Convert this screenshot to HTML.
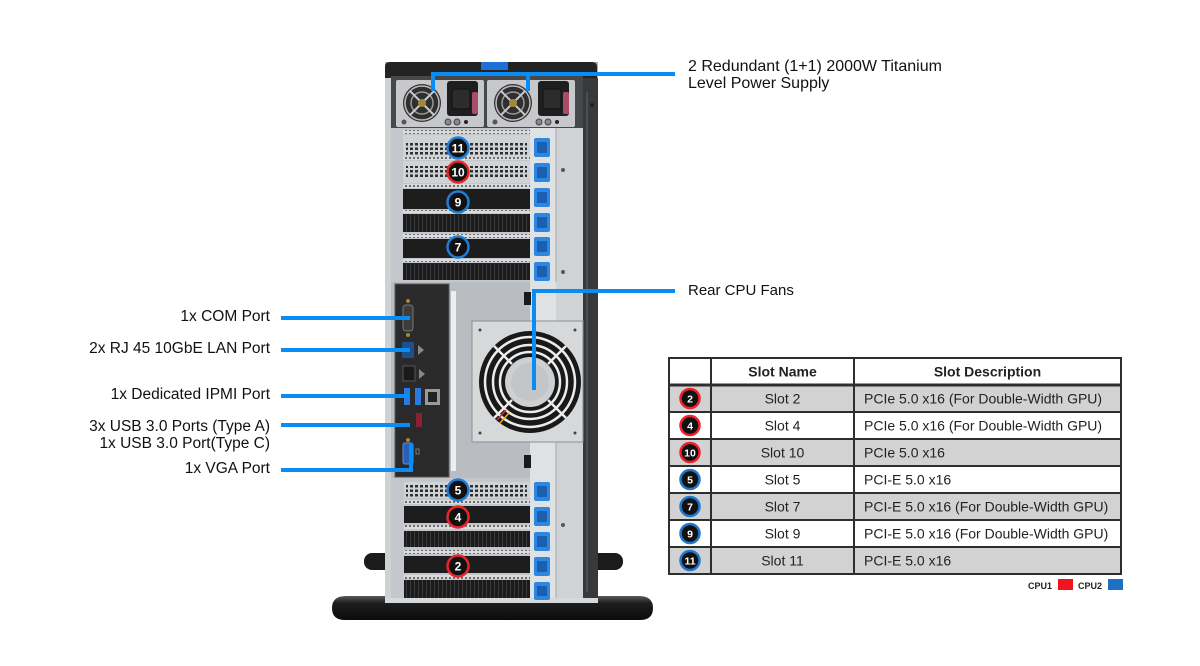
<!DOCTYPE html>
<html><head><meta charset="utf-8"><style>
html,body{margin:0;padding:0;background:#fff;}
body{width:1200px;height:666px;position:relative;overflow:hidden;font-family:"Liberation Sans",Arial,sans-serif;}
.lbl{position:absolute;font-size:16px;color:#111;white-space:nowrap;}
.r{text-align:right;right:930px;font-size:15.5px;}
svg{position:absolute;left:0;top:0;}
</style></head><body>
<svg width="1200" height="666" viewBox="0 0 1200 666" xmlns="http://www.w3.org/2000/svg" font-family="Liberation Sans, Arial, sans-serif">
<defs>
<pattern id="perf" width="5" height="4.5" patternUnits="userSpaceOnUse" x="404" y="142"><rect width="5" height="4.5" fill="#d0d3d6"/><rect x="1" y="1" width="3" height="2.5" fill="#2e2e2e"/></pattern>
<pattern id="fins" width="4" height="10" patternUnits="userSpaceOnUse"><rect width="4" height="10" fill="#1b1b1b"/><rect x="2" width="1" height="10" fill="#3a3a3a"/></pattern>
<pattern id="strip" width="4" height="4" patternUnits="userSpaceOnUse"><rect width="4" height="4" fill="#d9dbdd"/><rect x="1" y="1" width="2" height="2" fill="#6a6c6e"/></pattern>
<linearGradient id="standg" x1="0" y1="0" x2="0" y2="1"><stop offset="0" stop-color="#5a5a5a"/><stop offset="0.3" stop-color="#1d1d1d"/><stop offset="1" stop-color="#0c0c0c"/></linearGradient>
<g id="psu">
<rect x="396" y="80" width="88" height="47" rx="2" fill="#c6c8cb"/>
<circle cx="422" cy="103" r="19" fill="#2f2f2f"/>
<circle cx="422" cy="103" r="17" fill="none" stroke="#bcbcbc" stroke-width="1.5"/>
<circle cx="422" cy="103" r="11" fill="none" stroke="#9a9a9a" stroke-width="1.5"/>
<line x1="410" y1="91" x2="434" y2="115" stroke="#c8c8c8" stroke-width="2"/>
<line x1="434" y1="91" x2="410" y2="115" stroke="#c8c8c8" stroke-width="2"/>
<circle cx="422" cy="103" r="4" fill="#a08a3a"/>
<rect x="447" y="81" width="31" height="35" rx="3" fill="#1e1e1e"/>
<rect x="452" y="89" width="18" height="20" rx="3" fill="#2c2c2c" stroke="#111"/>
<rect x="472" y="92" width="6" height="22" rx="2" fill="#a84c68"/>
<circle cx="404" cy="122" r="2.5" fill="#555"/>
<circle cx="448" cy="122" r="3" fill="#8a8a8a" stroke="#444"/>
<circle cx="457" cy="122" r="3" fill="#8a8a8a" stroke="#444"/>
<circle cx="466" cy="122" r="2" fill="#222"/>
</g>
</defs>

<!-- stand -->
<rect x="364" y="553" width="42" height="17" rx="8" fill="#1b1b1b"/>
<rect x="581" y="553" width="42" height="17" rx="8" fill="#1b1b1b"/>
<path d="M346,596 L639,596 Q653,596 653,608 Q653,620 640,620 L345,620 Q332,620 332,608 Q332,596 346,596 Z" fill="url(#standg)"/>

<!-- chassis -->
<rect x="385" y="62" width="213" height="541" fill="#a9adb1"/>
<path d="M385,80 L385,67 Q385,62 390,62 L592,62 Q597,62 597,67 L597,80 Z" fill="#232323"/>
<rect x="481" y="62" width="27" height="8" fill="#1e6fd6"/>
<rect x="583" y="78" width="15" height="525" fill="#38393b"/>
<rect x="586" y="92" width="2" height="500" fill="#4d4e50"/>
<circle cx="592" cy="105" r="2" fill="#222"/>
<rect x="385" y="78" width="6" height="525" fill="#cfd2d5"/>

<!-- PSU -->
<rect x="391" y="76" width="192" height="52" fill="#47484a"/>
<use href="#psu"/>
<use href="#psu" transform="translate(91,0)"/>

<!-- upper slot area -->
<rect x="391" y="128" width="192" height="154" fill="#c3c7cb"/>
<rect x="403" y="130" width="127" height="4" fill="url(#strip)"/>
<rect x="403" y="135" width="127" height="22" fill="#d0d3d6"/>
<rect x="406" y="142" width="121" height="13" fill="url(#perf)"/>
<rect x="403" y="157" width="127" height="3" fill="url(#strip)"/>
<rect x="403" y="161" width="127" height="22" fill="#d0d3d6"/>
<rect x="406" y="166" width="121" height="13" fill="url(#perf)"/>
<rect x="403" y="184" width="127" height="4" fill="url(#strip)"/>
<rect x="403" y="189" width="127" height="20" fill="#1d1d1d"/>
<rect x="403" y="210" width="127" height="3" fill="url(#strip)"/>
<rect x="403" y="214" width="127" height="18" fill="url(#fins)"/>
<rect x="403" y="234" width="127" height="4" fill="url(#strip)"/>
<rect x="403" y="239" width="127" height="19" fill="#1d1d1d"/>
<rect x="403" y="259" width="127" height="3" fill="url(#strip)"/>
<rect x="403" y="263" width="127" height="17" fill="url(#fins)"/>
<rect x="530" y="128" width="26" height="154" fill="#dfe2e5"/>
<rect x="556" y="128" width="27" height="154" fill="#d0d3d6"/>
<line x1="556" y1="128" x2="556" y2="282" stroke="#a5a8ab"/>
<circle cx="563" cy="170" r="2" fill="#555"/>
<circle cx="563" cy="272" r="2" fill="#555"/>

<!-- middle -->
<rect x="391" y="282" width="192" height="196" fill="#b9bdc1"/>
<rect x="530" y="282" width="26" height="39" fill="#dfe2e5"/>
<rect x="556" y="282" width="27" height="39" fill="#d0d3d6"/>
<rect x="530" y="442" width="26" height="36" fill="#dfe2e5"/>
<rect x="556" y="442" width="27" height="36" fill="#d0d3d6"/>
<rect x="395" y="284" width="54" height="193" fill="#2a2a2b" stroke="#555"/>
<rect x="451" y="291" width="5" height="180" fill="#eceef0"/>
<rect x="403" y="305" width="10" height="26" rx="3" fill="#3d3d3d" stroke="#777"/>
<circle cx="408" cy="301" r="2" fill="#a08a3a"/>
<circle cx="408" cy="335" r="2" fill="#a08a3a"/>
<rect x="402" y="342" width="12" height="16" fill="#1f4f8a"/>
<path d="M418,345 L424,350 L418,355 Z" fill="#888"/>
<rect x="403" y="366" width="12" height="15" fill="#1a1a1a" stroke="#555"/>
<path d="M419,369 L425,374 L419,379 Z" fill="#888"/>
<rect x="404" y="388" width="6" height="17" fill="#2a7be0"/>
<rect x="415" y="388" width="6" height="17" fill="#2a7be0"/>
<rect x="425" y="389" width="15" height="16" fill="#9a9a9a"/>
<rect x="428" y="392" width="9" height="10" fill="#222"/>
<rect x="416" y="413" width="6" height="14" fill="#8a2236"/>
<rect x="403" y="443" width="10" height="21" rx="2" fill="#2a5fb8" stroke="#6a8ad0"/>
<circle cx="408" cy="440" r="2" fill="#a08a3a"/>
<rect x="416" y="449" width="3" height="5" fill="none" stroke="#777"/>
<rect x="524" y="292" width="7" height="13" fill="#1a1a1a"/>
<rect x="524" y="455" width="7" height="13" fill="#1a1a1a"/>
<!-- fan -->
<rect x="472" y="321" width="111" height="121" fill="#d6d8da" stroke="#8c8f92"/>
<circle cx="480" cy="330" r="1.5" fill="#444"/><circle cx="575" cy="330" r="1.5" fill="#444"/>
<circle cx="480" cy="433" r="1.5" fill="#444"/><circle cx="575" cy="433" r="1.5" fill="#444"/>
<circle cx="530" cy="382" r="51" fill="#191919"/>
<circle cx="530" cy="382" r="45" fill="none" stroke="#ececec" stroke-width="2.5"/>
<circle cx="530" cy="382" r="37" fill="none" stroke="#ececec" stroke-width="2.5"/>
<circle cx="530" cy="382" r="30" fill="none" stroke="#ececec" stroke-width="2.5"/>
<g stroke="#ececec" stroke-width="2.5">
<line x1="512" y1="364" x2="494" y2="346"/><line x1="548" y1="364" x2="566" y2="346"/>
<line x1="512" y1="400" x2="494" y2="418"/><line x1="548" y1="400" x2="566" y2="418"/>
</g>
<circle cx="530" cy="382" r="25" fill="#cdd0d2"/>
<circle cx="530" cy="382" r="19" fill="#c3c6c8"/>
<line x1="497" y1="420" x2="506" y2="410" stroke="#d24" stroke-width="1.5"/>
<line x1="500" y1="423" x2="509" y2="413" stroke="#e9b400" stroke-width="1.5"/>

<!-- lower slot area -->
<rect x="391" y="478" width="192" height="125" fill="#c3c7cb"/>
<rect x="404" y="482" width="126" height="16" fill="#d0d3d6"/>
<rect x="406" y="485" width="121" height="12" fill="url(#perf)"/>
<rect x="404" y="500" width="126" height="4" fill="url(#strip)"/>
<rect x="404" y="506" width="126" height="17" fill="#1d1d1d"/>
<rect x="404" y="525" width="126" height="4" fill="url(#strip)"/>
<rect x="404" y="531" width="126" height="16" fill="url(#fins)"/>
<rect x="404" y="550" width="126" height="4" fill="url(#strip)"/>
<rect x="404" y="556" width="126" height="17" fill="#1d1d1d"/>
<rect x="404" y="575" width="126" height="4" fill="url(#strip)"/>
<rect x="404" y="580" width="126" height="18" fill="url(#fins)"/>
<rect x="530" y="478" width="26" height="125" fill="#dfe2e5"/>
<rect x="556" y="478" width="27" height="125" fill="#d0d3d6"/>
<line x1="556" y1="442" x2="556" y2="603" stroke="#a5a8ab"/>
<circle cx="563" cy="525" r="2" fill="#555"/>
<rect x="385" y="598" width="213" height="5" fill="#d6d9dc"/>

<!-- latches -->
<g fill="#2d86e0">
<rect x="534" y="138" width="16" height="19" rx="2"/><rect x="534" y="163" width="16" height="19" rx="2"/>
<rect x="534" y="188" width="16" height="19" rx="2"/><rect x="534" y="213" width="16" height="19" rx="2"/>
<rect x="534" y="237" width="16" height="19" rx="2"/><rect x="534" y="262" width="16" height="19" rx="2"/>
<rect x="534" y="482" width="16" height="19" rx="2"/><rect x="534" y="507" width="16" height="19" rx="2"/>
<rect x="534" y="532" width="16" height="19" rx="2"/><rect x="534" y="557" width="16" height="19" rx="2"/>
<rect x="534" y="582" width="16" height="18" rx="2"/>
</g>
<g fill="#1a5fb0">
<rect x="537" y="142" width="10" height="11"/><rect x="537" y="167" width="10" height="11"/>
<rect x="537" y="192" width="10" height="11"/><rect x="537" y="217" width="10" height="11"/>
<rect x="537" y="241" width="10" height="11"/><rect x="537" y="266" width="10" height="11"/>
<rect x="537" y="486" width="10" height="11"/><rect x="537" y="511" width="10" height="11"/>
<rect x="537" y="536" width="10" height="11"/><rect x="537" y="561" width="10" height="11"/>
<rect x="537" y="586" width="10" height="10"/>
</g>

<!-- badges on server -->
<g font-size="12" font-weight="bold" fill="#fff" text-anchor="middle">
<circle cx="458" cy="148" r="10.5" fill="#111" stroke="#1d7fd8" stroke-width="2.5"/><text x="458" y="152.5">11</text>
<circle cx="458" cy="172" r="10.5" fill="#111" stroke="#e8262a" stroke-width="2.5"/><text x="458" y="176.5">10</text>
<circle cx="458" cy="202" r="10.5" fill="#111" stroke="#1d7fd8" stroke-width="2.5"/><text x="458" y="206.5">9</text>
<circle cx="458" cy="247" r="10.5" fill="#111" stroke="#1d7fd8" stroke-width="2.5"/><text x="458" y="251.5">7</text>
<circle cx="458" cy="490" r="10.5" fill="#111" stroke="#1d7fd8" stroke-width="2.5"/><text x="458" y="494.5">5</text>
<circle cx="458" cy="517" r="10.5" fill="#111" stroke="#e8262a" stroke-width="2.5"/><text x="458" y="521.5">4</text>
<circle cx="458" cy="566" r="10.5" fill="#111" stroke="#e8262a" stroke-width="2.5"/><text x="458" y="570.5">2</text>
</g>

<!-- connector lines -->
<g fill="#0a8cf5">
<rect x="431" y="72" width="244" height="4"/>
<rect x="431" y="72" width="4" height="19"/>
<rect x="526" y="72" width="4" height="19"/>
<rect x="532" y="289" width="143" height="4"/>
<rect x="532" y="289" width="4" height="101"/>
<rect x="281" y="316" width="129" height="4"/>
<rect x="281" y="348" width="129" height="4"/>
<rect x="281" y="394" width="129" height="4"/>
<rect x="281" y="423" width="129" height="4"/>
<rect x="281" y="468" width="132" height="4"/>
<rect x="409" y="443" width="4" height="29"/>
</g>

<!-- table -->
<rect x="669" y="358" width="452" height="216" fill="#fff"/>
<g fill="#d2d2d2">
<rect x="669" y="385" width="452" height="27"/>
<rect x="669" y="439" width="452" height="27"/>
<rect x="669" y="493" width="452" height="27"/>
<rect x="669" y="547" width="452" height="27"/>
</g>
<g stroke="#2e2e2e" stroke-width="2">
<line x1="669" y1="385" x2="1121" y2="385" stroke-width="3"/>
<line x1="669" y1="412" x2="1121" y2="412"/>
<line x1="669" y1="439" x2="1121" y2="439"/>
<line x1="669" y1="466" x2="1121" y2="466"/>
<line x1="669" y1="493" x2="1121" y2="493"/>
<line x1="669" y1="520" x2="1121" y2="520"/>
<line x1="669" y1="547" x2="1121" y2="547"/>
<line x1="711" y1="358" x2="711" y2="574"/>
<line x1="854" y1="358" x2="854" y2="574"/>
<rect x="669" y="358" width="452" height="216" fill="none"/>
</g>
<g font-size="14" fill="#222">
<text x="782.5" y="376.5" text-anchor="middle" font-weight="bold">Slot Name</text>
<text x="987.5" y="376.5" text-anchor="middle" font-weight="bold">Slot Description</text>
<g text-anchor="middle">
<text x="782.5" y="403.5">Slot 2</text>
<text x="782.5" y="430.5">Slot 4</text>
<text x="782.5" y="457.5">Slot 10</text>
<text x="782.5" y="484.5">Slot 5</text>
<text x="782.5" y="511.5">Slot 7</text>
<text x="782.5" y="538.5">Slot 9</text>
<text x="782.5" y="565.5">Slot 11</text>
</g>
<text x="864" y="403.5">PCIe 5.0 x16 (For Double-Width GPU)</text>
<text x="864" y="430.5">PCIe 5.0 x16 (For Double-Width GPU)</text>
<text x="864" y="457.5">PCIe 5.0 x16</text>
<text x="864" y="484.5">PCI-E 5.0 x16</text>
<text x="864" y="511.5">PCI-E 5.0 x16 (For Double-Width GPU)</text>
<text x="864" y="538.5">PCI-E 5.0 x16 (For Double-Width GPU)</text>
<text x="864" y="565.5">PCI-E 5.0 x16</text>
</g>
<g font-size="10.5" font-weight="bold" fill="#fff" text-anchor="middle">
<circle cx="690" cy="398.5" r="9.5" fill="#111" stroke="#ee2228" stroke-width="2.5"/><text x="690" y="402.5">2</text>
<circle cx="690" cy="425.5" r="9.5" fill="#111" stroke="#ee2228" stroke-width="2.5"/><text x="690" y="429.5">4</text>
<circle cx="690" cy="452.5" r="9.5" fill="#111" stroke="#ee2228" stroke-width="2.5"/><text x="690" y="456.5">10</text>
<circle cx="690" cy="479.5" r="9.5" fill="#111" stroke="#1e78d0" stroke-width="2.5"/><text x="690" y="483.5">5</text>
<circle cx="690" cy="506.5" r="9.5" fill="#111" stroke="#1e78d0" stroke-width="2.5"/><text x="690" y="510.5">7</text>
<circle cx="690" cy="533.5" r="9.5" fill="#111" stroke="#1e78d0" stroke-width="2.5"/><text x="690" y="537.5">9</text>
<circle cx="690" cy="560.5" r="9.5" fill="#111" stroke="#1e78d0" stroke-width="2.5"/><text x="690" y="564.5">11</text>
</g>
<!-- legend -->
<g font-size="9" font-weight="bold" fill="#222">
<text x="1028" y="589">CPU1</text>
<text x="1078" y="589">CPU2</text>
</g>
<rect x="1058" y="579" width="15" height="11" fill="#f0141c"/>
<rect x="1108" y="579" width="15" height="11" fill="#1f6fc5"/>
</svg>

<div class="lbl" style="left:688px;top:58px;line-height:17px">2 Redundant (1+1) 2000W Titanium<br>Level Power Supply</div>
<div class="lbl" style="left:688px;top:281px;line-height:20px;font-size:15px">Rear CPU Fans</div>
<div class="lbl r" style="top:307px;line-height:20px">1x COM Port</div>
<div class="lbl r" style="top:339px;line-height:20px">2x RJ 45 10GbE LAN Port</div>
<div class="lbl r" style="top:385px;line-height:20px">1x Dedicated IPMI Port</div>
<div class="lbl r" style="top:418px;line-height:17px">3x USB 3.0 Ports (Type A)<br>1x USB 3.0 Port(Type C)</div>
<div class="lbl r" style="top:459px;line-height:20px">1x VGA Port</div>
</body></html>
